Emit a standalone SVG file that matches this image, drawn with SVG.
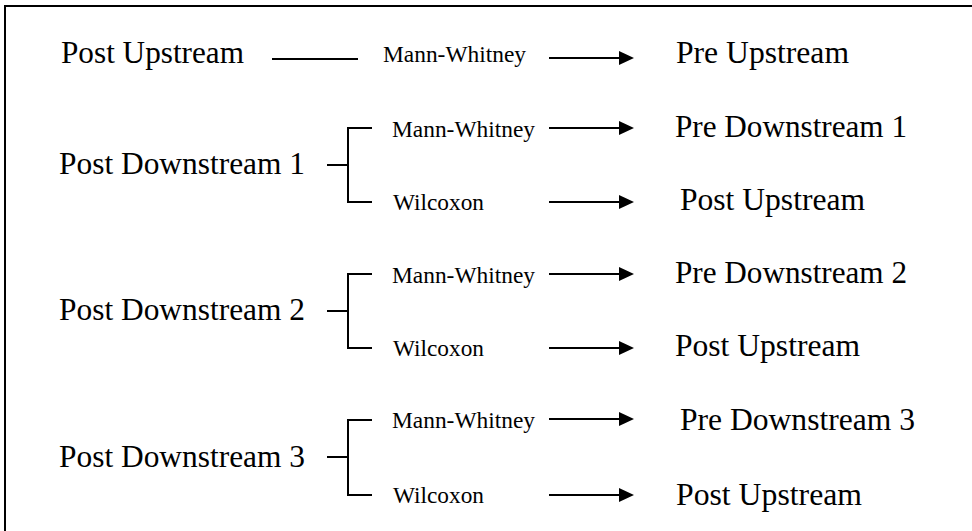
<svg xmlns="http://www.w3.org/2000/svg" width="972" height="531" viewBox="0 0 972 531">
<style>
.big{font-family:"Liberation Serif","Times New Roman",serif;font-size:31px;fill:#000}
.small{font-family:"Liberation Serif","Times New Roman",serif;font-size:23px;fill:#000}
.ln{stroke:#000;stroke-width:2;fill:none}
</style>
<defs>
<marker id="ah" markerUnits="userSpaceOnUse" markerWidth="16" markerHeight="15" refX="3" refY="7" orient="auto">
<path d="M0,0 L15,7 L0,14 z" fill="#000"/>
</marker>
</defs>
<rect width="972" height="531" fill="#fff"/>
<path class="ln" d="M5,540 V6 H980"/>

<g id="post-upstream"><text class="big" x="61" y="63" textLength="183" lengthAdjust="spacingAndGlyphs">Post Upstream</text></g>
<g id="pre-upstream"><text class="big" x="676" y="63" textLength="173" lengthAdjust="spacingAndGlyphs">Pre Upstream</text></g>
<g id="post-downstream-1"><text class="big" x="59" y="174" textLength="246" lengthAdjust="spacingAndGlyphs">Post Downstream 1</text></g>
<g id="pre-downstream-1"><text class="big" x="675" y="137" textLength="232" lengthAdjust="spacingAndGlyphs">Pre Downstream 1</text></g>
<g id="post-upstream-1"><text class="big" x="680" y="210" textLength="185" lengthAdjust="spacingAndGlyphs">Post Upstream</text></g>
<g id="post-downstream-2"><text class="big" x="59" y="320" textLength="246" lengthAdjust="spacingAndGlyphs">Post Downstream 2</text></g>
<g id="pre-downstream-2"><text class="big" x="675" y="283" textLength="232" lengthAdjust="spacingAndGlyphs">Pre Downstream 2</text></g>
<g id="post-upstream-2"><text class="big" x="675" y="356" textLength="185" lengthAdjust="spacingAndGlyphs">Post Upstream</text></g>
<g id="post-downstream-3"><text class="big" x="59" y="467" textLength="246" lengthAdjust="spacingAndGlyphs">Post Downstream 3</text></g>
<g id="pre-downstream-3"><text class="big" x="680" y="430" textLength="235" lengthAdjust="spacingAndGlyphs">Pre Downstream 3</text></g>
<g id="post-upstream-3"><text class="big" x="676" y="505" textLength="186" lengthAdjust="spacingAndGlyphs">Post Upstream</text></g>

<g id="connectors">
<line class="ln" x1="272" y1="59" x2="358" y2="59"/>
<text class="small" x="383" y="62" textLength="143" lengthAdjust="spacingAndGlyphs">Mann-Whitney</text>
<line class="ln" x1="549" y1="58" x2="622" y2="58" marker-end="url(#ah)"/>

<path class="ln" d="M327,165 H348 M372,128 H348 V202 H372"/>
<text class="small" x="392" y="137" textLength="143" lengthAdjust="spacingAndGlyphs">Mann-Whitney</text>
<line class="ln" x1="549" y1="128" x2="622" y2="128" marker-end="url(#ah)"/>
<text class="small" x="393" y="210" textLength="91" lengthAdjust="spacingAndGlyphs">Wilcoxon</text>
<line class="ln" x1="549" y1="202" x2="622" y2="202" marker-end="url(#ah)"/>

<path class="ln" d="M327,311 H348 M372,274 H348 V348 H372"/>
<text class="small" x="392" y="283" textLength="143" lengthAdjust="spacingAndGlyphs">Mann-Whitney</text>
<line class="ln" x1="549" y1="274" x2="622" y2="274" marker-end="url(#ah)"/>
<text class="small" x="393" y="356" textLength="91" lengthAdjust="spacingAndGlyphs">Wilcoxon</text>
<line class="ln" x1="549" y1="348" x2="622" y2="348" marker-end="url(#ah)"/>

<path class="ln" d="M327,457 H348 M372,420 H348 V495 H372"/>
<text class="small" x="392" y="428" textLength="143" lengthAdjust="spacingAndGlyphs">Mann-Whitney</text>
<line class="ln" x1="549" y1="419" x2="622" y2="419" marker-end="url(#ah)"/>
<text class="small" x="393" y="503" textLength="91" lengthAdjust="spacingAndGlyphs">Wilcoxon</text>
<line class="ln" x1="549" y1="495" x2="622" y2="495" marker-end="url(#ah)"/>
</g>
</svg>
